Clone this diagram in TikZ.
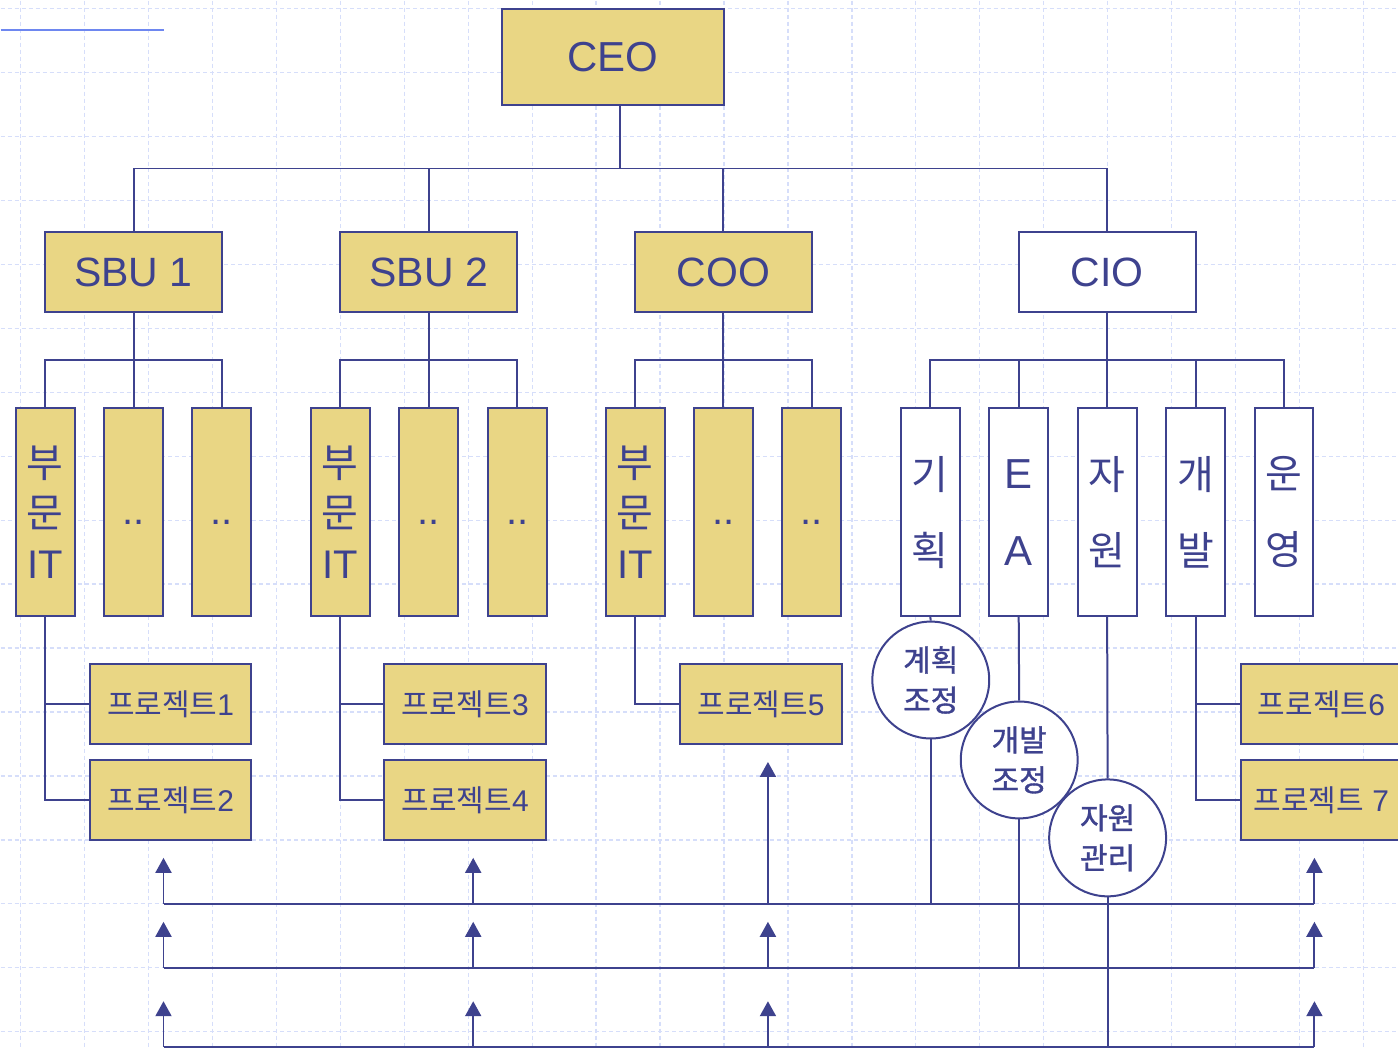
\documentclass[tikz,border=0pt]{standalone}
\usepackage{fontspec}
\setmainfont{Liberation Sans}
\newfontfamily\kr{Noto Sans CJK KR}
\newfontfamily\krb[FakeBold=1.2]{Noto Sans CJK KR}
\usepackage{xcolor}
\usepackage{tikz}
\usetikzlibrary{positioning,arrows.meta,calc}
\definecolor{navy}{RGB}{62,66,142}
\definecolor{khaki}{RGB}{233,214,132}
\definecolor{gridc}{RGB}{214,222,250}
\definecolor{rulec}{RGB}{110,135,240}

\begin{document}
\begin{tikzpicture}[x=1pt,y=-1pt,
  ln/.style={draw=navy,line width=2pt},
  bx/.style={ln,fill=khaki,text=navy,inner sep=0pt,align=center},
  topbx/.style={bx,minimum width=222pt,minimum height=96pt,font=\fontsize{42}{50}\selectfont},
  midbx/.style={bx,minimum width=177pt,minimum height=80pt,font=\fontsize{41}{50}\selectfont},
  colbx/.style={bx,minimum width=59pt,minimum height=208pt,font=\fontsize{40}{51}\selectfont},
  dotbx/.style={colbx,text height=24pt,text depth=0pt},
  prjbx/.style={bx,minimum width=162pt,minimum height=80pt,font=\fontsize{30}{36}\selectfont},
  hub/.style={ln,circle,fill=white,text=navy,minimum size=117pt,inner sep=0pt,align=center,
    font=\krb\fontsize{30}{40}\selectfont},
  upar/.style={ln,-{Triangle[width=16pt,length=15pt]}},
  gridln/.style={draw=gridc,line width=1.3pt,dash pattern=on 4pt off 3pt}]
% background and grid
\fill[white] (0,0) rectangle (1398,1049);
\foreach \x in {20,84,...,1396} \draw[gridln] (\x,0) -- (\x,1049);
\foreach \y in {8,72,...,1049} \draw[gridln] (0,\y) -- (1398,\y);
\useasboundingbox (0,0) rectangle (1398,1049);
\draw[rulec,line width=2pt] (0,29) -- (164,29);
% top levels
\node[topbx] (ceo) at (613,56) {CEO};
\foreach \nm/\x/\t in {sbu1/133/SBU 1,sbu2/428.5/SBU 2,coo/723.5/COO}
  \node[midbx] (\nm) at (\x,272) {\t};
\node[midbx,fill=white] (cio) at (1107.5,272) {CIO};
\coordinate (bus) at (620,168);
\draw[ln] (ceo.south -| bus) -- (bus);
\draw[ln] (sbu1.north) |- (bus) -| (cio.north);
\draw[ln] (sbu2.north) -- (sbu2.north |- bus);
\draw[ln] (coo.north) -- (coo.north |- bus);
% business units
\foreach \p/\x in {sbu1/133,sbu2/428.5,coo/723.5}{
  \node[colbx] (\p-1) at ({\x-88.5},512) {{\kr 부}\\{\kr 문}\\IT};
  \node[dotbx] (\p-2) at (\x,512) {..};
  \node[dotbx] (\p-3) at ({\x+88.5},512) {..};
  \draw[ln] (\p-1.north) |- ($(\p.south)!.5!(\p-2.north)$) -| (\p-3.north);
  \draw[ln] (\p.south) -- (\p-2.north);
}
% cio units
\foreach \i/\a/\b in {1/기/획,3/자/원,4/개/발,5/운/영}
  \node[colbx,fill=white,font=\kr\fontsize{40}{76}\selectfont] (cio-\i) at ({1107.5+(\i-3)*88.5},512) {\a\\\b};
\node[colbx,fill=white,font=\fontsize{42}{77}\selectfont] (cio-2) at (1019,512) {E\\A};
\coordinate (cbus) at ($(cio.south)!.5!(cio-3.north)$);
\draw[ln] (cio-1.north) |- (cbus) -| (cio-5.north);
\draw[ln] (cio.south) -- (cio-3.north);
\foreach \i in {2,4} \draw[ln] (cio-\i.north) -- (cio-\i.north |- cbus);
% projects
\foreach \nm/\x/\y/\t in {p1/170/704/1,p2/170/800.5/2,p3/465/704/3,p4/465/800.5/4,p5/761/704/5,p6/1322/704/6}
  \node[prjbx] (\nm) at (\x,\y) {{\kr 프로젝트}\t};
\node[prjbx] (p7) at (1322,800.5) {{\kr 프로젝트} 7};
\foreach \a/\b in {p1/sbu1-1,p2/sbu1-1,p3/sbu2-1,p4/sbu2-1,p5/coo-1,p6/cio-4,p7/cio-4}
  \draw[ln] (\a.west) -| (\b.south);
% coordination hubs
\node[hub] (h1) at (931,680) {계획\\조정};
\node[hub] (h2) at (1019.5,760) {개발\\조정};
\node[hub] (h3) at (1108,838) {자원\\관리};
\foreach \i in {1,2,3} \draw[ln] (cio-\i.south) -- (h\i.north);
% feedback lines
\foreach \i/\y in {1/904,2/968,3/1047.5}{
  \coordinate (a\i) at (163,\y);
  \coordinate (z\i) at (1315,\y);
  \draw[ln] (a\i) -- (z\i);
  \draw[ln] (h\i.south) -- (h\i.south |- a\i);
  \foreach \x in {163,473,768,1315}{
    \coordinate (s\i-\x) at (\x,\y);
    \coordinate (t\i-\x) at (\x,{\y-46});
    \pgfmathtruncatemacro{\lng}{\i==1 && \x==768}
    \ifnum\lng=0 \draw[upar] (s\i-\x) -- (t\i-\x);\fi}
}
\coordinate (t5) at ($(p5.south)+(7,17)$);
\draw[upar] (s1-768) -- (t5);
\end{tikzpicture}
\end{document}
